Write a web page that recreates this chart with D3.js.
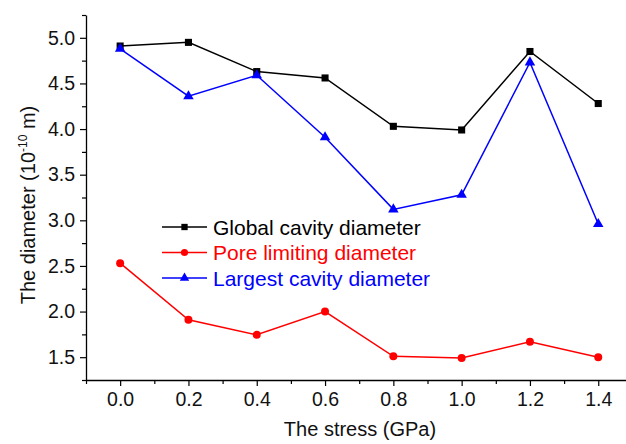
<!DOCTYPE html>
<html><head><meta charset="utf-8">
<script src="https://cdn.jsdelivr.net/npm/d3@7"></script>
<style>body{margin:0;background:#fff}svg{display:block}text{font-family:"Liberation Sans",Arial,sans-serif}</style>
</head><body>
<svg id="c" width="626" height="444"></svg>
<script>
const stress = [0.0, 0.2, 0.4, 0.6, 0.8, 1.0, 1.2, 1.4];
const globalCavity = [4.91, 4.95, 4.63, 4.56, 4.03, 3.99, 4.85, 4.28];
const poreLimiting = [2.53, 1.91, 1.745, 2.0, 1.51, 1.49, 1.67, 1.50];
const largestCavity = [4.88, 4.36, 4.59, 3.91, 3.12, 3.28, 4.73, 2.96];
const xTicks = [0.0, 0.2, 0.4, 0.6, 0.8, 1.0, 1.2, 1.4];
const yTicks = [1.5, 2.0, 2.5, 3.0, 3.5, 4.0, 4.5, 5.0];
const seriesNames = ["Global cavity diameter", "Pore limiting diameter", "Largest cavity diameter"];

const svg = d3.select("#c");
const x = d3.scaleLinear().domain([-0.1, 1.5]).range([86, 632.4]);
const y = d3.scaleLinear().domain([1.25, 5.25]).range([380, 15]);

const series = [
  {name: seriesNames[0], vals: globalCavity, color: "#000000", sym: d3.symbolSquare, size: 50},
  {name: seriesNames[1], vals: poreLimiting, color: "#ff0000", sym: d3.symbolCircle, size: 50},
  {name: seriesNames[2], vals: largestCavity, color: "#0000ff", sym: d3.symbolTriangle, size: 48}
];

const xMinor = d3.range(-0.1, 1.51, 0.1).map(v => +v.toFixed(2)).filter(v => !xTicks.some(t => Math.abs(t - v) < 1e-6));
const yMinor = d3.range(1.25, 5.26, 0.5).map(v => +v.toFixed(2));

const gx = svg.append("g").attr("transform", "translate(0,380)");
gx.call(d3.axisBottom(x).tickValues(xTicks).tickFormat(d3.format(".1f")).tickSize(6).tickSizeOuter(0).tickPadding(6));
gx.append("g").call(d3.axisBottom(x).tickValues(xMinor).tickFormat("").tickSize(4).tickSizeOuter(0)).select(".domain").remove();

const gy = svg.append("g").attr("transform", "translate(86,0)");
gy.call(d3.axisLeft(y).tickValues(yTicks).tickFormat(d3.format(".1f")).tickSize(6).tickSizeOuter(0).tickPadding(5));
gy.append("g").call(d3.axisLeft(y).tickValues(yMinor).tickFormat("").tickSize(4).tickSizeOuter(0)).select(".domain").remove();

svg.selectAll(".domain").attr("stroke", "#000").attr("stroke-width", 1.3);
svg.selectAll(".tick line").attr("stroke", "#000").attr("stroke-width", 1.2);
svg.selectAll(".tick text").attr("font-size", 19.5).attr("fill", "#111");

const line = d3.line().x((d, i) => x(stress[i])).y(d => y(d));
series.forEach(s => {
  svg.append("path").datum(s.vals).attr("d", line).attr("fill", "none")
    .attr("stroke", s.color).attr("stroke-width", 1.5);
  svg.selectAll(null).data(s.vals).enter().append("path")
    .attr("d", d3.symbol().type(s.sym).size(s.size))
    .attr("transform", (d, i) => `translate(${x(stress[i])},${y(d)})`)
    .attr("fill", s.color);
});

const lg = svg.append("g");
series.forEach((s, i) => {
  const yy = 227 + i * 25.5;
  lg.append("line").attr("x1", 162).attr("x2", 207).attr("y1", yy).attr("y2", yy)
    .attr("stroke", s.color).attr("stroke-width", 1.5);
  lg.append("path").attr("d", d3.symbol().type(s.sym).size(s.size * 0.8))
    .attr("transform", `translate(184.5,${yy})`).attr("fill", s.color);
  lg.append("text").attr("x", 213).attr("y", yy).attr("dy", "0.36em")
    .attr("font-size", 21).attr("fill", s.color).text(s.name);
});

svg.append("text").attr("x", 360).attr("y", 436).attr("text-anchor", "middle")
  .attr("font-size", 20).attr("fill", "#111").text("The stress (GPa)");
const yt = svg.append("text").attr("transform", "translate(35,205) rotate(-90)")
  .attr("text-anchor", "middle").attr("font-size", 20).attr("fill", "#111");
yt.append("tspan").text("The diameter (10");
yt.append("tspan").attr("font-size", 12).attr("dy", -8).text("-10");
yt.append("tspan").attr("dy", 8).text(" m)");
</script>
</body></html>
